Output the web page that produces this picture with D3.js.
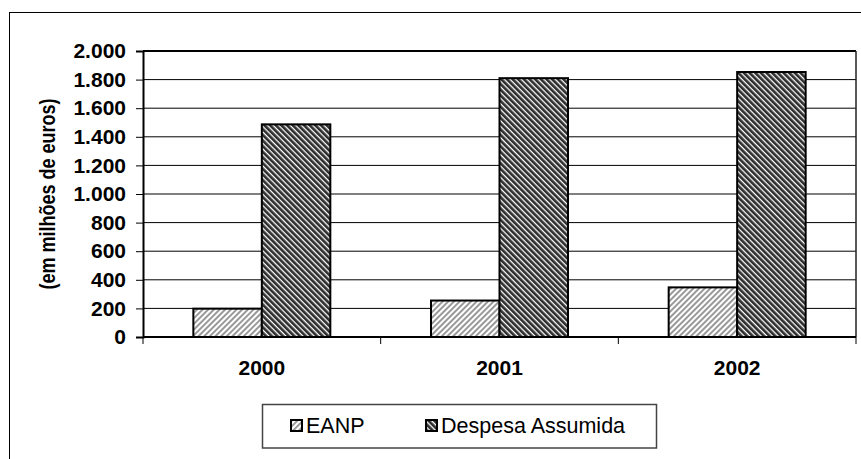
<!DOCTYPE html>
<html>
<head>
<meta charset="utf-8">
<script src="https://cdn.jsdelivr.net/npm/d3@7"></script>
<style>
  body { margin: 0; background: #fff; }
  svg { display: block; font-family: Arial, "Liberation Sans", sans-serif; }
</style>
</head>
<body>
<div id="chart"></div>
<script>
var years = ["2000", "2001", "2002"];
var seriesNames = ["EANP", "Despesa Assumida"];
var eanp = [198, 255, 347];
var despesa = [1487, 1810, 1853];
var yTicks = [0, 200, 400, 600, 800, 1000, 1200, 1400, 1600, 1800, 2000];

var width = 861, height = 459;
var svg = d3.select("#chart").append("svg")
    .attr("width", width)
    .attr("height", height);

var defs = svg.append("defs");

// light "/" hatch
var p1 = defs.append("pattern")
    .attr("id", "hatchLight")
    .attr("patternUnits", "userSpaceOnUse")
    .attr("width", 4).attr("height", 4)
    .attr("patternTransform", "rotate(45)");
p1.append("rect").attr("width", 4).attr("height", 4).attr("fill", "#fff");
p1.append("rect").attr("width", 2).attr("height", 4).attr("fill", "#999");

// dark "\" hatch
var p2 = defs.append("pattern")
    .attr("id", "hatchDark")
    .attr("patternUnits", "userSpaceOnUse")
    .attr("width", 4).attr("height", 4)
    .attr("patternTransform", "rotate(-45)");
p2.append("rect").attr("width", 4).attr("height", 4).attr("fill", "#fff");
p2.append("rect").attr("width", 2.7).attr("height", 4).attr("fill", "#2e2e2e");

var fills = ["url(#hatchLight)", "url(#hatchDark)"];

// outer frame
svg.append("rect")
    .attr("x", 9.5).attr("y", 12.5)
    .attr("width", 880).attr("height", 480)
    .attr("fill", "none").attr("stroke", "#000").attr("stroke-width", 1);

var plot = { left: 143, right: 856, top: 51, bottom: 337 };

var x = d3.scaleBand()
    .domain(years)
    .range([plot.left, plot.right])
    .paddingInner(0).paddingOuter(0);

var xSub = d3.scaleBand()
    .domain(seriesNames)
    .range([0, x.bandwidth()])
    .paddingInner(0).paddingOuter(0.735);

var y = d3.scaleLinear()
    .domain([0, 2000])
    .range([plot.bottom, plot.top]);

// gridlines
svg.append("g").selectAll("line")
    .data(yTicks.slice(1, -1))
    .enter().append("line")
    .attr("x1", plot.left).attr("x2", plot.right)
    .attr("y1", function (d) { return y(d); })
    .attr("y2", function (d) { return y(d); })
    .attr("stroke", "#000").attr("stroke-width", 1);

// plot top and right border
svg.append("line")
    .attr("x1", plot.left).attr("x2", plot.right)
    .attr("y1", y(2000)).attr("y2", y(2000))
    .attr("stroke", "#000").attr("stroke-width", 2);
svg.append("line")
    .attr("x1", plot.right).attr("x2", plot.right)
    .attr("y1", plot.top).attr("y2", plot.bottom)
    .attr("stroke", "#222").attr("stroke-width", 1.5);

// bars
var rows = years.map(function (yr, i) {
    return { year: yr, values: [eanp[i], despesa[i]] };
});

var groups = svg.append("g").selectAll("g")
    .data(rows)
    .enter().append("g")
    .attr("transform", function (d) { return "translate(" + x(d.year) + ",0)"; });

groups.selectAll("rect")
    .data(function (d) {
        return d.values.map(function (v, j) { return { name: seriesNames[j], value: v, j: j }; });
    })
    .enter().append("rect")
    .attr("x", function (d) { return xSub(d.name); })
    .attr("width", xSub.bandwidth())
    .attr("y", function (d) { return y(d.value); })
    .attr("height", function (d) { return y(0) - y(d.value); })
    .attr("fill", function (d) { return fills[d.j]; })
    .attr("stroke", "#000")
    .attr("stroke-width", 2);

// y axis
var yAxis = d3.axisLeft(y)
    .tickValues(yTicks)
    .tickSize(7)
    .tickPadding(10)
    .tickFormat(function (d) { return d3.format(",")(d).replace(/,/g, "."); });

var yg = svg.append("g")
    .attr("transform", "translate(" + plot.left + ",0)")
    .call(yAxis);
yg.select(".domain").attr("stroke-width", 2);
yg.selectAll(".tick line").attr("stroke", "#000");
yg.selectAll("text")
    .attr("fill", "#000")
    .style("font-size", "21px")
    .style("font-weight", "bold")
    .style("font-family", "Arial, 'Liberation Sans', sans-serif");

// x axis (ticks on category boundaries)
var xg = svg.append("g");
xg.append("line")
    .attr("x1", plot.left).attr("x2", plot.right)
    .attr("y1", y(0)).attr("y2", y(0))
    .attr("stroke", "#000").attr("stroke-width", 2);
var bounds = years.map(function (d) { return x(d); }).concat([plot.right]);
xg.selectAll(".xt")
    .data(bounds)
    .enter().append("line")
    .attr("class", "xt")
    .attr("x1", function (d) { return d; }).attr("x2", function (d) { return d; })
    .attr("y1", y(0)).attr("y2", y(0) + 7)
    .attr("stroke", "#000").attr("stroke-width", 1);
xg.selectAll(".xl")
    .data(years)
    .enter().append("text")
    .attr("class", "xl")
    .attr("x", function (d) { return x(d) + x.bandwidth() / 2; })
    .attr("y", 375)
    .attr("text-anchor", "middle")
    .style("font-size", "21px")
    .style("font-weight", "bold")
    .text(function (d) { return d; });

// y axis title (glyphs a bit taller than wide, as in the original)
svg.append("text")
    .attr("transform", "translate(47,194) rotate(-90) scale(1,1.25)")
    .attr("text-anchor", "middle")
    .attr("dy", "0.35em")
    .style("font-size", "18px")
    .style("font-weight", "bold")
    .text("(em milhões de euros)");

// legend
var lg = svg.append("g");
lg.append("rect")
    .attr("x", 262.5).attr("y", 404.5)
    .attr("width", 394).attr("height", 43.5)
    .attr("fill", "#fff").attr("stroke", "#444").attr("stroke-width", 1.5);

var legendX = [291, 426];
var items = lg.selectAll(".li")
    .data(seriesNames)
    .enter().append("g")
    .attr("class", "li")
    .attr("transform", function (d, i) { return "translate(" + legendX[i] + ",420)"; });
items.append("rect")
    .attr("width", 11).attr("height", 11)
    .attr("fill", function (d, i) { return fills[i]; })
    .attr("stroke", "#000").attr("stroke-width", 2);
items.append("text")
    .attr("x", 15).attr("y", 13)
    .style("font-size", "21.5px")
    .text(function (d) { return d; });
</script>
</body>
</html>
